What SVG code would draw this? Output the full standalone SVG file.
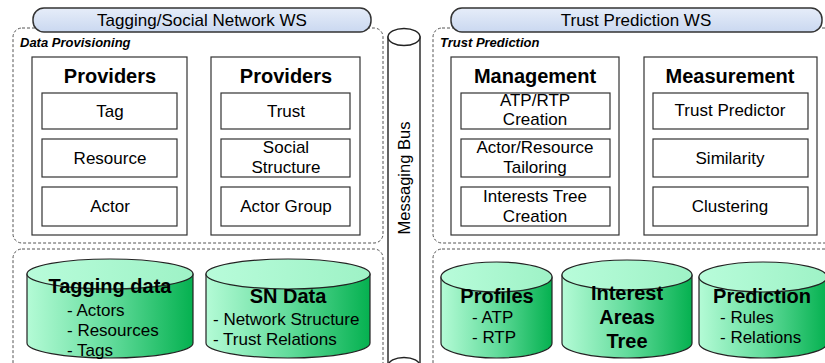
<svg xmlns="http://www.w3.org/2000/svg" width="825" height="363" viewBox="0 0 825 363">
<defs>
<linearGradient id="pill" x1="0" y1="0" x2="0" y2="1">
<stop offset="0" stop-color="#e6edf9"/>
<stop offset="1" stop-color="#cad8f0"/>
</linearGradient>
<linearGradient id="body" x1="0" y1="0" x2="1" y2="0">
<stop offset="0" stop-color="#b4fbd6"/>
<stop offset="0.5" stop-color="#63dc9c"/>
<stop offset="1" stop-color="#05b150"/>
</linearGradient>
<linearGradient id="top" x1="0" y1="0" x2="1" y2="0">
<stop offset="0" stop-color="#b8fcda"/>
<stop offset="1" stop-color="#9ef2c6"/>
</linearGradient>
</defs>
<style>
text{font-family:"Liberation Sans",Arial,sans-serif;fill:#000}
.t{font-size:17px;text-anchor:middle}
.h{font-size:20px;font-weight:bold;text-anchor:middle}
.lab{font-size:13px;font-weight:bold;font-style:italic}
.it{font-size:17px}
.dash{fill:none;stroke:#555;stroke-width:1;stroke-dasharray:3 2}
.pill{fill:url(#pill);stroke:#333;stroke-width:1.5}
.box{fill:#fff;stroke:#333;stroke-width:1.2}
.cyl{fill:url(#body);stroke:#222;stroke-width:1.2}
.cyltop{fill:url(#top);stroke:#222;stroke-width:1.2}
.bus{fill:#fff;stroke:#222;stroke-width:1.4}
</style>

<g id="containers">
<rect class="dash" x="13" y="28" width="370" height="215" rx="9"/>
<rect class="dash" x="433" y="28" width="410" height="215" rx="9"/>
<rect class="dash" x="13" y="249" width="370" height="130" rx="9"/>
<rect class="dash" x="433" y="249" width="410" height="130" rx="9"/>
<text class="lab" x="20" y="47">Data Provisioning</text>
<text class="lab" x="440" y="47">Trust Prediction</text>
</g>

<g id="ws-left">
<rect class="pill" x="33" y="8" width="338" height="24" rx="11"/>
<text class="t" x="202" y="26">Tagging/Social Network WS</text>
</g>
<g id="ws-right">
<rect class="pill" x="451" y="8" width="371" height="24" rx="11"/>
<text class="t" x="636" y="26">Trust Prediction WS</text>
</g>

<g id="bus">
<path class="bus" d="M388,37 V365 H420 V37 Z"/>
<ellipse class="bus" cx="404" cy="37" rx="16" ry="8.5"/>
<ellipse class="bus" cx="404" cy="366" rx="16" ry="8.5"/>
<text class="t" transform="translate(410,178) rotate(-90)" style="font-size:16.5px">Messaging Bus</text>
</g>

<g id="providers1">
<rect class="box" x="32" y="57" width="155" height="178"/>
<text class="h" x="110" y="83">Providers</text>
<rect class="box" x="42" y="93" width="135" height="36"/>
<text class="t" x="110" y="117">Tag</text>
<rect class="box" x="42" y="139" width="135" height="38"/>
<text class="t" x="110" y="164">Resource</text>
<rect class="box" x="42" y="187" width="135" height="39"/>
<text class="t" x="110" y="212">Actor</text>
</g>

<g id="providers2">
<rect class="box" x="211" y="57" width="149" height="178"/>
<text class="h" x="286" y="83">Providers</text>
<rect class="box" x="221" y="93" width="129" height="36"/>
<text class="t" x="286" y="117">Trust</text>
<rect class="box" x="221" y="139" width="129" height="38"/>
<text class="t" x="286" y="153">Social</text>
<text class="t" x="286" y="173">Structure</text>
<rect class="box" x="221" y="187" width="129" height="39"/>
<text class="t" x="286" y="212">Actor Group</text>
</g>

<g id="management">
<rect class="box" x="451" y="57" width="168" height="178"/>
<text class="h" x="535" y="83">Management</text>
<rect class="box" x="461" y="93" width="149" height="36"/>
<text class="t" x="535" y="106">ATP/RTP</text>
<text class="t" x="535" y="125">Creation</text>
<rect class="box" x="461" y="139" width="149" height="38"/>
<text class="t" x="535" y="153">Actor/Resource</text>
<text class="t" x="535" y="173">Tailoring</text>
<rect class="box" x="461" y="187" width="149" height="39"/>
<text class="t" x="535" y="202">Interests Tree</text>
<text class="t" x="535" y="222">Creation</text>
</g>

<g id="measurement">
<rect class="box" x="644" y="57" width="173" height="178"/>
<text class="h" x="730" y="83">Measurement</text>
<rect class="box" x="653" y="93" width="155" height="36"/>
<text class="t" x="730" y="116">Trust Predictor</text>
<rect class="box" x="653" y="139" width="155" height="38"/>
<text class="t" x="730" y="164">Similarity</text>
<rect class="box" x="653" y="187" width="155" height="39"/>
<text class="t" x="730" y="212">Clustering</text>
</g>

<g id="tagging-data">
<path class="cyl" d="M27,274 V343 A83,15 0 0 0 193,343 V274 Z"/>
<ellipse class="cyltop" cx="110" cy="274" rx="83" ry="15"/>
<text class="h" x="110" y="293">Tagging data</text>
<text class="it" x="67" y="316">- Actors</text>
<text class="it" x="67" y="336">- Resources</text>
<text class="it" x="67" y="356">- Tags</text>
</g>

<g id="sn-data">
<path class="cyl" d="M206,274 V343 A82,15 0 0 0 370,343 V274 Z"/>
<ellipse class="cyltop" cx="288" cy="274" rx="82" ry="15"/>
<text class="h" x="288" y="303">SN Data</text>
<text class="it" x="213" y="325">- Network Structure</text>
<text class="it" x="213" y="345">- Trust Relations</text>
</g>

<g id="profiles">
<path class="cyl" d="M441,277 V343 A55.5,15 0 0 0 552,343 V277 Z"/>
<ellipse class="cyltop" cx="496.5" cy="277" rx="55.5" ry="15"/>
<text class="h" x="497" y="303">Profiles</text>
<text class="it" x="472" y="323">- ATP</text>
<text class="it" x="472" y="343">- RTP</text>
</g>

<g id="interest-tree">
<path class="cyl" d="M562,275 V343 A65,15 0 0 0 692,343 V275 Z"/>
<ellipse class="cyltop" cx="627" cy="275" rx="65" ry="15"/>
<text class="h" x="627" y="300">Interest</text>
<text class="h" x="627" y="324">Areas</text>
<text class="h" x="627" y="348">Tree</text>
</g>

<g id="prediction">
<path class="cyl" d="M699,277 V343 A64,15 0 0 0 827,343 V277 Z"/>
<ellipse class="cyltop" cx="763" cy="277" rx="64" ry="15"/>
<text class="h" x="762" y="303">Prediction</text>
<text class="it" x="720" y="323">- Rules</text>
<text class="it" x="720" y="343">- Relations</text>
</g>

<g id="connectors"></g>
</svg>
